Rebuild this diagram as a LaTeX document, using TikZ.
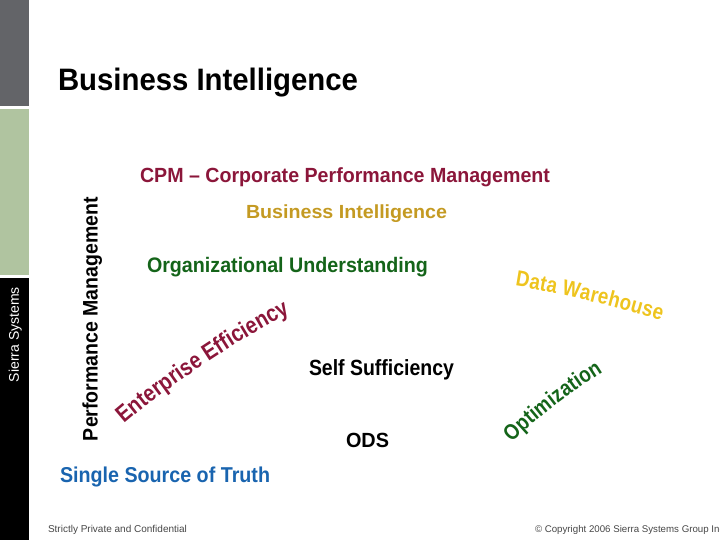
\documentclass[tikz,border=0pt]{standalone}
\usepackage{fontspec}
\usepackage{graphicx}
\setmainfont{Liberation Sans}
\newfontfamily\narrowfont[FakeStretch=0.85]{Liberation Sans}
\usetikzlibrary{decorations.text}
\definecolor{cpmred}{RGB}{139,22,58}
\definecolor{bigold}{RGB}{196,154,34}
\definecolor{orggreen}{RGB}{20,100,25}
\definecolor{dwyellow}{RGB}{238,196,30}
\definecolor{ssblue}{RGB}{25,100,175}
\definecolor{bargray}{RGB}{99,100,104}
\definecolor{bargreen}{RGB}{176,196,160}
\definecolor{footgray}{RGB}{70,70,70}
\newcommand\fitbold[3]{\resizebox{#1pt}{\height}{\fontsize{#2}{#2}\selectfont\bfseries #3}}
\newcommand\fitreg[3]{\resizebox{#1pt}{\height}{\fontsize{#2}{#2}\selectfont #3}}
\newcommand\curvefont[1]{\narrowfont\bfseries\fontsize{#1}{#1}\selectfont}
\begin{document}
\begin{tikzpicture}[x=1pt,y=-1pt,
  lbl/.style={anchor=base west,inner sep=0pt,outer sep=0pt},
  curved/.style={decorate,decoration={text along path,text align=fit to path,text={#1}}}]
\useasboundingbox (0,0) rectangle (720,540);
% left bar
\fill[bargray] (0,0) rectangle (29,106);
\fill[bargreen] (0,109) rectangle (29,275);
\fill[black] (0,278) rectangle (29,540);
\node[lbl,rotate=90,text=white] (sierra) at (19,382) {\fitreg{95}{14}{Sierra Systems}};
% title
\node[lbl] (title) at (58,91) {\fitbold{300}{31}{Business Intelligence}};
% vertical label
\node[lbl,rotate=90] (perf) at (97.5,441) {\fitbold{244}{21}{Performance Management}};
% levels
\node[lbl,text=cpmred] (cpm) at (140,183) {\fitbold{410}{20.5}{CPM – Corporate Performance Management}};
\node[lbl,text=bigold] (bi) at (246,218.5) {\fitbold{201}{19}{Business Intelligence}};
\node[lbl,text=orggreen] (org) at (147,272) {\fitbold{281}{21}{Organizational Understanding}};
\node[lbl] (self) at (309,375) {\fitbold{145}{22}{Self Sufficiency}};
\node[lbl] (ods) at (346,447) {\fitbold{43}{20.5}{ODS}};
\node[lbl,text=ssblue] (ssot) at (60,482) {\fitbold{210}{21.5}{Single Source of Truth}};
% curved texts
\path[curved={|\curvefont{23.5}\color{cpmred}|Enterprise Efficiency}]
  (124,424) .. controls (165.5,387.9) and (241,338) .. (290,313);
\path[curved={|\curvefont{22}\color{dwyellow}|Data Warehouse}]
  (515,286) .. controls (559.5,293) and (618.2,307.1) .. (661,321);
\path[curved={|\curvefont{22}\color{orggreen}|Optimization}]
  (512,443) .. controls (536.3,417.8) and (573.3,390.5) .. (603,372);
% footer
\node[lbl,text=footgray] (foot1) at (48,532) {\fontsize{10}{10}\selectfont Strictly Private and Confidential};
\node[lbl,text=footgray] (foot2) at (535,532) {\fontsize{9.7}{9.7}\selectfont © Copyright 2006 Sierra Systems Group Inc.};
\end{tikzpicture}
\end{document}
